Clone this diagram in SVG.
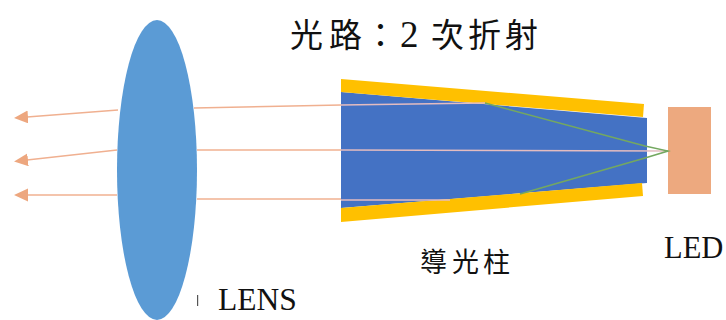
<svg xmlns="http://www.w3.org/2000/svg" width="726" height="320" viewBox="0 0 726 320">
<style>
.cjk{font-family:"Liberation Serif","Noto Sans CJK TC",serif;fill:#111}
.lat{font-family:"Liberation Serif","Noto Sans CJK TC",serif;fill:#111;font-size:30.5px}
.ray{fill:none;stroke:#f0b090;stroke-width:1.6}
.inner{fill:none;stroke:#e4bcc0;stroke-width:1.5}
.green{fill:none;stroke:#74a860;stroke-width:1.5}
</style>
<defs>
<marker id="arrow" markerUnits="userSpaceOnUse" markerWidth="15" markerHeight="14" refX="1" refY="6.5" orient="auto"><path d="M0 0L14 6.5L0 13Z" fill="#eda77f"/></marker>
</defs>
<rect width="726" height="320" fill="#fff"/>
<g id="light-guide">
<polygon points="341,92 647,118 647,183 341,208" fill="#4472c4"/>
<polygon points="341,79 644,104 643,117 341,92" fill="#ffc000"/>
<polygon points="341,208 642,183 643,196 341,222" fill="#ffc000"/>
</g>
<g id="led"><rect x="668" y="107" width="43" height="87" fill="#eda97f"/></g>
<g id="connectors">
<path class="ray" d="M118 110L27 117" marker-end="url(#arrow)"/>
<path class="ray" d="M117 150L27 160" marker-end="url(#arrow)"/>
<path class="ray" d="M117 195L27 195" marker-end="url(#arrow)"/>
<path class="ray" d="M194 108L341 105"/>
<path class="ray" d="M197 150L341 150"/>
<path class="ray" d="M197 199L341 199"/>
<path class="inner" d="M341 105L485 103"/>
<path class="inner" d="M341 150L668 151"/>
<path class="inner" d="M341 200L450 200"/>
<path class="green" d="M485 103L645 146L668 151L645 158L520 194"/>
</g>
<g id="lens"><ellipse cx="157" cy="170" rx="40" ry="150" fill="#5b9bd5"/><rect x="197" y="295" width="1.2" height="11" fill="#555"/></g>
<g id="labels">
<text class="cjk" font-size="33" y="47" x="290">光</text>
<text class="cjk" font-size="33" y="47" x="329">路</text>
<text class="cjk" font-size="33" y="47" x="364">：</text>
<text class="lat" y="47" x="400" style="font-size:37px">2</text>
<text class="cjk" font-size="33" y="47" x="431">次</text>
<text class="cjk" font-size="33" y="47" x="468">折</text>
<text class="cjk" font-size="33" y="47" x="505">射</text>
<text class="cjk" font-size="27" y="272" x="420">導</text>
<text class="cjk" font-size="27" y="272" x="452">光</text>
<text class="cjk" font-size="27" y="272" x="483">柱</text>
<text class="lat" x="664" y="258">LED</text>
<text class="lat" x="218" y="310" style="font-size:31.5px">LENS</text>
</g>
</svg>
